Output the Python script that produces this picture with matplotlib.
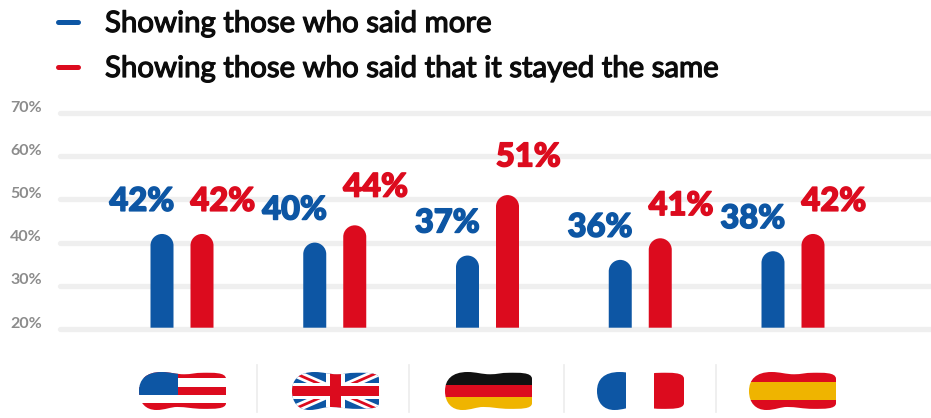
import matplotlib
matplotlib.use("Agg")
import matplotlib.pyplot as plt
import matplotlib.patheffects as pe
from matplotlib.patches import PathPatch, Rectangle, Polygon
from matplotlib.path import Path
from matplotlib.transforms import ScaledTranslation

W, H = 931, 418

BLUE = "#0d56a4"
RED = "#dc0b1e"
GOLD = "#efb400"
BLACK = "#111111"
GRID = "#efefef"

countries = ["US", "UK", "Germany", "France", "Spain"]
more = [42, 40, 37, 36, 38]
same = [42, 44, 51, 41, 42]
y_ticks = [20, 30, 40, 50, 60, 70]
legend_labels = ["Showing those who said more",
                 "Showing those who said that it stayed the same"]

plt.rcParams["font.family"] = ["Lato", "DejaVu Sans"]

fig = plt.figure(figsize=(W / 100, H / 100), dpi=100)

# chart axes: gridlines run from x=60 to the right edge
ax = fig.add_axes([60 / W, 1 - 329 / H, (W - 60) / W, (329 - 113) / H])
ax.set_xlim((60 - 182) / 152.75, (W - 182) / 152.75)
ax.set_ylim(20, 70)
ax.patch.set_alpha(0)
for s in ax.spines.values():
    s.set_visible(False)
ax.set_xticks([])
ax.set_yticks(y_ticks)
ax.set_yticklabels([f"{t}%" for t in y_ticks], fontsize=11.5, fontweight="bold", color="#8c8c8c")
ax.tick_params(axis="y", length=0, pad=13)
# tick labels sit just above their gridlines
for lab in ax.get_yticklabels():
    lab.set_transform(lab.get_transform() + ScaledTranslation(0, 5 / 72, fig.dpi_scale_trans))
for t in y_ticks:
    ax.axhline(t, color=GRID, lw=3.8, zorder=1, solid_capstyle="round", clip_on=False)

BAR_W = 23 / 152.75
OFFSET = 20 / 152.75
# one data unit on y is 4.32 px, so this keeps the caps circular
RADIUS_Y = 11.5 / 4.32
heavy = [pe.withStroke(linewidth=1.1, foreground=BLUE)]
heavy_red = [pe.withStroke(linewidth=1.1, foreground=RED)]


def round_bar(x, value, color):
    x0, x1 = x - BAR_W / 2, x + BAR_W / 2
    k = 0.55
    verts = [(x0, 20.3), (x0, value - RADIUS_Y),
             (x0, value - RADIUS_Y * (1 - k)), (x - BAR_W / 2 * k, value), (x, value),
             (x + BAR_W / 2 * k, value), (x1, value - RADIUS_Y * (1 - k)), (x1, value - RADIUS_Y),
             (x1, 20.3), (x0, 20.3)]
    codes = [Path.MOVETO, Path.LINETO, Path.CURVE4, Path.CURVE4, Path.CURVE4,
             Path.CURVE4, Path.CURVE4, Path.CURVE4, Path.LINETO, Path.CLOSEPOLY]
    ax.add_patch(PathPatch(Path(verts, codes), fc=color, ec="none", zorder=3))


for i in range(len(countries)):
    round_bar(i - OFFSET, more[i], BLUE)
    round_bar(i + OFFSET, same[i], RED)
    ax.annotate(f"{more[i]}%", (i - OFFSET, more[i]), xytext=(-14.5, 23.5), textcoords="offset points",
                ha="center", va="center", color=BLUE, fontsize=23.5, fontweight="black", zorder=4,
                annotation_clip=False, path_effects=heavy)
    # the taller red labels sit a little higher above their bars
    lift = 27.5 if same[i] in (44, 51) else 23.5
    ax.annotate(f"{same[i]}%", (i + OFFSET, same[i]), xytext=(15, lift), textcoords="offset points",
                ha="center", va="center", color=RED, fontsize=23.5, fontweight="black", zorder=4,
                annotation_clip=False, path_effects=heavy_red)

# overlay in pixel coordinates for the legend and the flag row
ov = fig.add_axes([0, 0, 1, 1])
ov.set_xlim(0, W)
ov.set_ylim(H, 0)
ov.axis("off")
ov.patch.set_alpha(0)

for y, c, label in zip([22, 67], [BLUE, RED], legend_labels):
    ov.plot([58, 78], [y, y], color=c, lw=3.6, solid_capstyle="round")
    ov.text(105, y + 2, label, fontsize=21.15, color="#0c0c0c", va="center", ha="left",
            path_effects=[pe.withStroke(linewidth=0.9, foreground="#0c0c0c")])

for x in [257, 409, 564, 716]:
    ov.plot([x, x], [365, 412], color="#ececec", lw=1.2)

FLAG_W, FLAG_H = 87, 38
FLAG_TOP = 372


def flag_outline(left):
    # bone-shaped silhouette, rounded corners and a shallow pinch in the middle
    pts = [(0.0, 0.50),
           (0.0, 0.20), (0.08, 0.0), (0.26, 0.0),
           (0.36, 0.0), (0.42, 0.06), (0.52, 0.06),
           (0.60, 0.06), (0.64, 0.02), (0.74, 0.02),
           (0.84, 0.02), (1.0, 0.0), (1.0, 0.18),
           (1.0, 0.40), (1.0, 0.60), (1.0, 0.82),
           (1.0, 0.98), (0.86, 0.97), (0.74, 0.97),
           (0.62, 0.97), (0.54, 0.92), (0.44, 0.92),
           (0.36, 0.92), (0.30, 1.0), (0.20, 1.0),
           (0.08, 1.0), (0.0, 0.82), (0.0, 0.50)]
    verts = [(left + u * FLAG_W, FLAG_TOP + v * FLAG_H) for u, v in pts]
    codes = [Path.MOVETO] + [Path.CURVE4] * (len(verts) - 1)
    return PathPatch(Path(verts, codes), fc="none", ec="none", transform=ov.transData)


def band(left, u0, v0, u1, v1, color, clip):
    r = Rectangle((left + u0 * FLAG_W, FLAG_TOP + v0 * FLAG_H), (u1 - u0) * FLAG_W, (v1 - v0) * FLAG_H,
                  fc=color, ec="none", zorder=3)
    ov.add_patch(r)
    r.set_clip_path(clip)


def diagonal(left, u0, v0, u1, v1, half, color, clip):
    xa, ya = left + u0 * FLAG_W, FLAG_TOP + v0 * FLAG_H
    xb, yb = left + u1 * FLAG_W, FLAG_TOP + v1 * FLAG_H
    p = Polygon([(xa, ya - half), (xb, yb - half), (xb, yb + half), (xa, ya + half)],
                fc=color, ec="none", zorder=3)
    ov.add_patch(p)
    p.set_clip_path(clip)


def draw_flag(name, left):
    clip = flag_outline(left)
    ov.add_patch(clip)
    if name == "US":
        for v0, v1 in [(0.0, 0.16), (0.40, 0.60), (0.81, 1.0)]:
            band(left, 0, v0, 1, v1, RED, clip)
        band(left, 0, 0, 0.45, 0.60, BLUE, clip)
    elif name == "UK":
        band(left, 0, 0, 1, 1, BLUE, clip)
        diagonal(left, 0, 0, 1, 1, 4.5, "white", clip)
        diagonal(left, 0, 1, 1, 0, 4.5, "white", clip)
        diagonal(left, 0, 0, 1, 1, 1.5, RED, clip)
        diagonal(left, 0, 1, 1, 0, 1.5, RED, clip)
        band(left, 0.39, 0, 0.61, 1, "white", clip)
        band(left, 0, 0.30, 1, 0.70, "white", clip)
        band(left, 0.44, 0, 0.56, 1, RED, clip)
        band(left, 0, 0.38, 1, 0.62, RED, clip)
    elif name == "Germany":
        band(left, 0, 0, 1, 0.33, BLACK, clip)
        band(left, 0, 0.33, 1, 0.67, RED, clip)
        band(left, 0, 0.67, 1, 1, GOLD, clip)
    elif name == "France":
        band(left, 0, 0, 0.33, 1, BLUE, clip)
        band(left, 0.66, 0, 1, 1, RED, clip)
    elif name == "Spain":
        band(left, 0, 0, 1, 0.27, RED, clip)
        band(left, 0, 0.27, 1, 0.73, GOLD, clip)
        band(left, 0, 0.73, 1, 1, RED, clip)


for name, left in zip(countries, [139, 292, 445, 597, 749]):
    draw_flag(name, left)

fig.savefig("out.png", dpi=100)
